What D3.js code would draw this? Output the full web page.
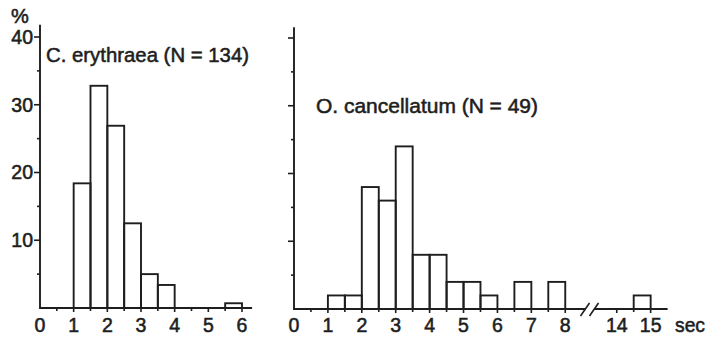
<!DOCTYPE html>
<html>
<head>
<meta charset="utf-8">
<script src="https://cdn.jsdelivr.net/npm/d3@7"></script>
<style>
  body { margin:0; background:#fff; }
  svg text { font-family: "Liberation Sans", Arial, Helvetica, sans-serif; fill:#1e1e1e; stroke:#1e1e1e; stroke-width:0.55px; }
</style>
</head>
<body>
<svg id="chart" width="710" height="338"></svg>
<script>
// bins are 0.5 sec wide, value = percent of observations
var binWidth = 0.5;

var eryBinStart = [1, 1.5, 2, 2.5, 3, 3.5, 5.5];
var eryPercent  = [18.4, 32.8, 26.9, 12.5, 5.0, 3.4, 0.7];

var canBinStart = [1, 1.5, 2, 2.5, 3, 3.5, 4, 4.5, 5, 5.5, 6.5, 7.5, 14.5];
var canPercent  = [2.0, 2.0, 18.0, 16.0, 24.0, 8.0, 8.0, 4.0, 4.0, 2.0, 4.0, 4.0, 2.0];

var yTicksMajor = [10, 20, 30, 40];
var yTicksMinor = [5, 15, 25, 35];
var eryXLabels = [0, 1, 2, 3, 4, 5, 6];
var canXLabels = [0, 1, 2, 3, 4, 5, 6, 7, 8, 14, 15];

var eryTitle = "C. erythraea (N = 134)";
var canTitle = "O. cancellatum (N = 49)";

var svg = d3.select('#chart');
var ink = "#1e1e1e";

// left panel scales
var xL = d3.scaleLinear().domain([0, 6]).range([40, 242]);
var yL = d3.scaleLinear().domain([0, 40]).range([308, 37]);
// right panel, broken axis between 8.5 and 13.5
var xR = d3.scaleLinear().domain([0, 8.5, 13.5, 15.5]).range([294, 582.2, 599.8, 667.6]);
var yR = d3.scaleLinear().domain([0, 40]).range([309, 38]);

function drawPanel(g, x, y, starts, vals, yTop, xticks){
    // bars
    g.selectAll('.bar').data(starts)
        .enter().append('rect')
        .attr('class','bar')
        .attr('x', function(d){ return x(d); })
        .attr('width', function(d){ return x(d+binWidth)-x(d); })
        .attr('y', function(d,i){ return y(vals[i]); })
        .attr('height', function(d,i){ return y(0)-y(vals[i]); })
        .style('fill','none').style('stroke',ink).style('stroke-width',1.9);

    // y axis line + ticks
    g.append('line').attr('x1',x(0)).attr('x2',x(0)).attr('y1',y(0)+1).attr('y2',y(yTop))
        .style('stroke',ink).style('stroke-width',1.9);
    g.selectAll('.ytk').data(yTicksMajor.concat(yTicksMinor))
        .enter().append('line')
        .attr('x1', function(d){ return x(0) - (d%10==0 ? 6 : 3); })
        .attr('x2', x(0))
        .attr('y1', function(d){ return y(d); }).attr('y2', function(d){ return y(d); })
        .style('stroke',ink).style('stroke-width',1.6);

    // x ticks
    g.selectAll('.xtk').data(xticks)
        .enter().append('line')
        .attr('x1', function(d){ return x(d); }).attr('x2', function(d){ return x(d); })
        .attr('y1', y(0))
        .attr('y2', function(d){ return y(0) + (d%1==0 ? 4 : 3); })
        .style('stroke',ink).style('stroke-width',1.6);
}

var gL = svg.append('g');
var ticksL = d3.range(0.5, 6.01, 0.5);
drawPanel(gL, xL, yL, eryBinStart, eryPercent, 41.8, ticksL);
gL.append('line').attr('x1',xL(0)).attr('x2',xL(6.3)).attr('y1',yL(0)).attr('y2',yL(0))
    .style('stroke',ink).style('stroke-width',1.9);

var gR = svg.append('g');
var ticksR = d3.range(0.5, 8.01, 0.5).concat([14, 14.5, 15]);
drawPanel(gR, xR, yR, canBinStart, canPercent, 41.6, ticksR);
// broken baseline
gR.append('line').attr('x1',xR(0)).attr('x2',585).attr('y1',yR(0)).attr('y2',yR(0))
    .style('stroke',ink).style('stroke-width',1.9);
gR.append('line').attr('x1',595).attr('x2',xR(15.5)).attr('y1',yR(0)).attr('y2',yR(0))
    .style('stroke',ink).style('stroke-width',1.9);
[585, 594].forEach(function(cx){
    gR.append('line').attr('x1',cx-4.5).attr('x2',cx+4.5).attr('y1',yR(0)+7).attr('y2',yR(0)-6)
        .style('stroke',ink).style('stroke-width',1.6);
});

// y labels (left only)
svg.selectAll('.ylab').data(yTicksMajor)
    .enter().append('text')
    .attr('x', 33).attr('y', function(d){ return yL(d); })
    .attr('dy','0.35em').attr('text-anchor','end')
    .style('font-size','19.5px')
    .text(function(d){ return d; });
svg.append('text').attr('x',20).attr('y',23).attr('text-anchor','middle')
    .style('font-size','20px').text('%');

// x labels
svg.selectAll('.xlabL').data(eryXLabels)
    .enter().append('text')
    .attr('x', function(d){ return xL(d); }).attr('y', 332)
    .attr('text-anchor','middle').style('font-size','19.5px')
    .text(function(d){ return d; });
svg.selectAll('.xlabR').data(canXLabels)
    .enter().append('text')
    .attr('x', function(d){ return xR(d); }).attr('y', 332)
    .attr('text-anchor','middle').style('font-size','19.5px')
    .text(function(d){ return d; });
svg.append('text').attr('x',675).attr('y',332).style('font-size','20px')
    .attr('textLength',30).attr('lengthAdjust','spacingAndGlyphs').text('sec');

// titles
svg.append('text').attr('x',46).attr('y',62).style('font-size','21px')
    .attr('textLength',203).attr('lengthAdjust','spacingAndGlyphs').text(eryTitle);
svg.append('text').attr('x',316).attr('y',113).style('font-size','21px')
    .attr('textLength',222).attr('lengthAdjust','spacingAndGlyphs').text(canTitle);
</script>
</body>
</html>
